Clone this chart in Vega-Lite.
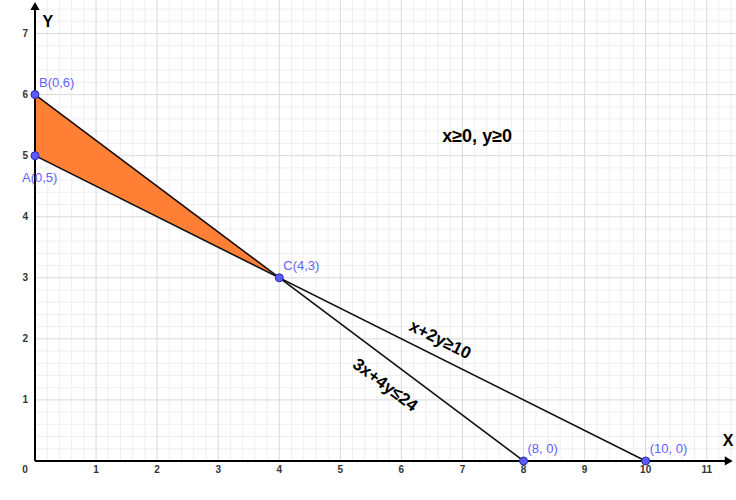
{
  "$schema": "https://vega.github.io/schema/vega-lite/v6.json",
  "width": 736,
  "height": 500,
  "padding": 0,
  "autosize": {"type": "none"},
  "config": {"view": {"stroke": null}, "text": {"font": "Liberation Sans"}},
  "datasets": {
    "minorx": [{"v":0.2},{"v":0.4},{"v":0.6},{"v":0.8},{"v":1.2},{"v":1.4},{"v":1.6},{"v":1.8},{"v":2.2},{"v":2.4},{"v":2.6},{"v":2.8},{"v":3.2},{"v":3.4},{"v":3.6},{"v":3.8},{"v":4.2},{"v":4.4},{"v":4.6},{"v":4.8},{"v":5.2},{"v":5.4},{"v":5.6},{"v":5.8},{"v":6.2},{"v":6.4},{"v":6.6},{"v":6.8},{"v":7.2},{"v":7.4},{"v":7.6},{"v":7.8},{"v":8.2},{"v":8.4},{"v":8.6},{"v":8.8},{"v":9.2},{"v":9.4},{"v":9.6},{"v":9.8},{"v":10.2},{"v":10.4},{"v":10.6},{"v":10.8},{"v":11.2},{"v":11.4}],
    "minory": [{"v":0.2},{"v":0.4},{"v":0.6},{"v":0.8},{"v":1.2},{"v":1.4},{"v":1.6},{"v":1.8},{"v":2.2},{"v":2.4},{"v":2.6},{"v":2.8},{"v":3.2},{"v":3.4},{"v":3.6},{"v":3.8},{"v":4.2},{"v":4.4},{"v":4.6},{"v":4.8},{"v":5.2},{"v":5.4},{"v":5.6},{"v":5.8},{"v":6.2},{"v":6.4},{"v":6.6},{"v":6.8},{"v":7.2},{"v":7.4}],
    "majorx": [{"v":1},{"v":2},{"v":3},{"v":4},{"v":5},{"v":6},{"v":7},{"v":8},{"v":9},{"v":10},{"v":11}],
    "majory": [{"v":1},{"v":2},{"v":3},{"v":4},{"v":5},{"v":6},{"v":7}]
  },
  "layer": [
    {
      "data": {"name": "minorx"},
      "mark": {"type": "rule", "color": "#efefef", "strokeWidth": 1},
      "encoding": {
        "x": {"field": "v", "type": "quantitative", "scale": {"domain": [-0.573, 11.479], "nice": false, "zero": false}, "axis": null},
        "y": {"datum": 0, "type": "quantitative", "scale": {"domain": [-0.639, 7.549], "nice": false, "zero": false}, "axis": null},
        "y2": {"datum": 7.549}
      }
    },
    {
      "data": {"name": "minory"},
      "mark": {"type": "rule", "color": "#efefef", "strokeWidth": 1},
      "encoding": {
        "y": {"field": "v", "type": "quantitative", "axis": null},
        "x": {"datum": 0, "type": "quantitative", "axis": null},
        "x2": {"datum": 11.479}
      }
    },
    {
      "data": {"name": "majorx"},
      "mark": {"type": "rule", "color": "#d9d9d9", "strokeWidth": 1},
      "encoding": {
        "x": {"field": "v", "type": "quantitative", "axis": null},
        "y": {"datum": 0, "type": "quantitative", "axis": null},
        "y2": {"datum": 7.549}
      }
    },
    {
      "data": {"name": "majory"},
      "mark": {"type": "rule", "color": "#d9d9d9", "strokeWidth": 1},
      "encoding": {
        "y": {"field": "v", "type": "quantitative", "axis": null},
        "x": {"datum": 0, "type": "quantitative", "axis": null},
        "x2": {"datum": 11.479}
      }
    },
    {
      "data": {"values": [{"x": 0, "y": 6, "y2": 5}, {"x": 4, "y": 3, "y2": 3}]},
      "mark": {"type": "area", "color": "#ff7f35", "opacity": 1},
      "encoding": {
        "x": {"field": "x", "type": "quantitative", "axis": null},
        "y": {"field": "y", "type": "quantitative", "axis": null},
        "y2": {"field": "y2"}
      }
    },
    {
      "data": {"values": [
        {"s": "3x+4y=24", "x": 0, "y": 6}, {"s": "3x+4y=24", "x": 8, "y": 0},
        {"s": "x+2y=10", "x": 0, "y": 5}, {"s": "x+2y=10", "x": 10, "y": 0}
      ]},
      "mark": {"type": "line", "color": "#111111", "strokeWidth": 1.6},
      "encoding": {
        "x": {"field": "x", "type": "quantitative", "axis": null},
        "y": {"field": "y", "type": "quantitative", "axis": null},
        "detail": {"field": "s"}
      }
    },
    {
      "data": {"values": [
        {"x": 0, "y": 0, "x2": 11.3, "y2": 0},
        {"x": 0, "y": 0, "x2": 0, "y2": 7.42}
      ]},
      "mark": {"type": "rule", "color": "#000000", "strokeWidth": 2},
      "encoding": {
        "x": {"field": "x", "type": "quantitative", "axis": null},
        "y": {"field": "y", "type": "quantitative", "axis": null},
        "x2": {"field": "x2"},
        "y2": {"field": "y2"}
      }
    },
    {
      "data": {"values": [{"x": 0, "y": 7.45}]},
      "mark": {"type": "point", "shape": "triangle-up", "filled": true, "color": "#000000", "size": 85, "opacity": 1},
      "encoding": {
        "x": {"field": "x", "type": "quantitative", "axis": null},
        "y": {"field": "y", "type": "quantitative", "axis": null}
      }
    },
    {
      "data": {"values": [{"x": 11.36, "y": 0}]},
      "mark": {"type": "point", "shape": "triangle-right", "filled": true, "color": "#000000", "size": 85, "opacity": 1},
      "encoding": {
        "x": {"field": "x", "type": "quantitative", "axis": null},
        "y": {"field": "y", "type": "quantitative", "axis": null}
      }
    },
    {
      "data": {"values": [
        {"label": "A(0,5)", "x": 0, "y": 5},
        {"label": "B(0,6)", "x": 0, "y": 6},
        {"label": "C(4,3)", "x": 4, "y": 3},
        {"label": "(8, 0)", "x": 8, "y": 0},
        {"label": "(10, 0)", "x": 10, "y": 0}
      ]},
      "mark": {"type": "circle", "fill": "#5a5aff", "stroke": "#2b2ba8", "strokeWidth": 1, "size": 64, "opacity": 1},
      "encoding": {
        "x": {"field": "x", "type": "quantitative", "axis": null},
        "y": {"field": "y", "type": "quantitative", "axis": null}
      }
    },
    {
      "data": {"values": [
        {"label": "B(0,6)", "x": 0, "y": 6},
        {"label": "C(4,3)", "x": 4, "y": 3},
        {"label": "(8, 0)", "x": 8, "y": 0},
        {"label": "(10, 0)", "x": 10, "y": 0}
      ]},
      "mark": {"type": "text", "align": "left", "baseline": "middle", "dx": 4, "dy": -12, "fontSize": 13, "color": "#6262ff"},
      "encoding": {
        "x": {"field": "x", "type": "quantitative", "axis": null},
        "y": {"field": "y", "type": "quantitative", "axis": null},
        "text": {"field": "label"}
      }
    },
    {
      "data": {"values": [{"label": "A(0,5)", "x": 0, "y": 5}]},
      "mark": {"type": "text", "align": "left", "baseline": "middle", "dx": -13, "dy": 22, "fontSize": 13, "color": "#6262ff"},
      "encoding": {
        "x": {"field": "x", "type": "quantitative", "axis": null},
        "y": {"field": "y", "type": "quantitative", "axis": null},
        "text": {"field": "label"}
      }
    },
    {
      "data": {"values": [{"t": "1", "x": 1}, {"t": "2", "x": 2}, {"t": "3", "x": 3}, {"t": "4", "x": 4}, {"t": "5", "x": 5}, {"t": "6", "x": 6}, {"t": "7", "x": 7}, {"t": "8", "x": 8}, {"t": "9", "x": 9}, {"t": "10", "x": 10}, {"t": "11", "x": 11}]},
      "mark": {"type": "text", "align": "center", "baseline": "middle", "dy": 9, "fontSize": 10, "fontWeight": "bold", "color": "#333333"},
      "encoding": {
        "x": {"field": "x", "type": "quantitative", "axis": null},
        "y": {"datum": 0, "type": "quantitative", "axis": null},
        "text": {"field": "t"}
      }
    },
    {
      "data": {"values": [{"t": "1", "y": 1}, {"t": "2", "y": 2}, {"t": "3", "y": 3}, {"t": "4", "y": 4}, {"t": "5", "y": 5}, {"t": "6", "y": 6}, {"t": "7", "y": 7}]},
      "mark": {"type": "text", "align": "right", "baseline": "middle", "dx": -7, "fontSize": 10, "fontWeight": "bold", "color": "#333333"},
      "encoding": {
        "y": {"field": "y", "type": "quantitative", "axis": null},
        "x": {"datum": 0, "type": "quantitative", "axis": null},
        "text": {"field": "t"}
      }
    },
    {
      "data": {"values": [{"t": "0", "x": 0, "y": 0}]},
      "mark": {"type": "text", "align": "center", "baseline": "middle", "dx": -10, "dy": 9, "fontSize": 10, "fontWeight": "bold", "color": "#333333"},
      "encoding": {
        "x": {"field": "x", "type": "quantitative", "axis": null},
        "y": {"field": "y", "type": "quantitative", "axis": null},
        "text": {"field": "t"}
      }
    },
    {
      "data": {"values": [{"t": "X", "x": 11.35, "y": 0.33}, {"t": "Y", "x": 0.21, "y": 7.19}]},
      "mark": {"type": "text", "align": "center", "baseline": "middle", "fontSize": 16, "fontWeight": "bold", "color": "#000000"},
      "encoding": {
        "x": {"field": "x", "type": "quantitative", "axis": null},
        "y": {"field": "y", "type": "quantitative", "axis": null},
        "text": {"field": "t"}
      }
    },
    {
      "data": {"values": [{"t": "x≥0, y≥0", "x": 7.24, "y": 5.31}]},
      "mark": {"type": "text", "align": "center", "baseline": "middle", "fontSize": 18, "fontWeight": "bold", "color": "#000000"},
      "encoding": {
        "x": {"field": "x", "type": "quantitative", "axis": null},
        "y": {"field": "y", "type": "quantitative", "axis": null},
        "text": {"field": "t"}
      }
    },
    {
      "data": {"values": [{"t": "x+2y≥10", "x": 6.63, "y": 1.98}]},
      "mark": {"type": "text", "align": "center", "baseline": "middle", "angle": 26.6, "fontSize": 17, "fontWeight": "bold", "color": "#000000"},
      "encoding": {
        "x": {"field": "x", "type": "quantitative", "axis": null},
        "y": {"field": "y", "type": "quantitative", "axis": null},
        "text": {"field": "t"}
      }
    },
    {
      "data": {"values": [{"t": "3x+4y≤24", "x": 5.73, "y": 1.24}]},
      "mark": {"type": "text", "align": "center", "baseline": "middle", "angle": 36.9, "fontSize": 17, "fontWeight": "bold", "color": "#000000"},
      "encoding": {
        "x": {"field": "x", "type": "quantitative", "axis": null},
        "y": {"field": "y", "type": "quantitative", "axis": null},
        "text": {"field": "t"}
      }
    }
  ]
}
